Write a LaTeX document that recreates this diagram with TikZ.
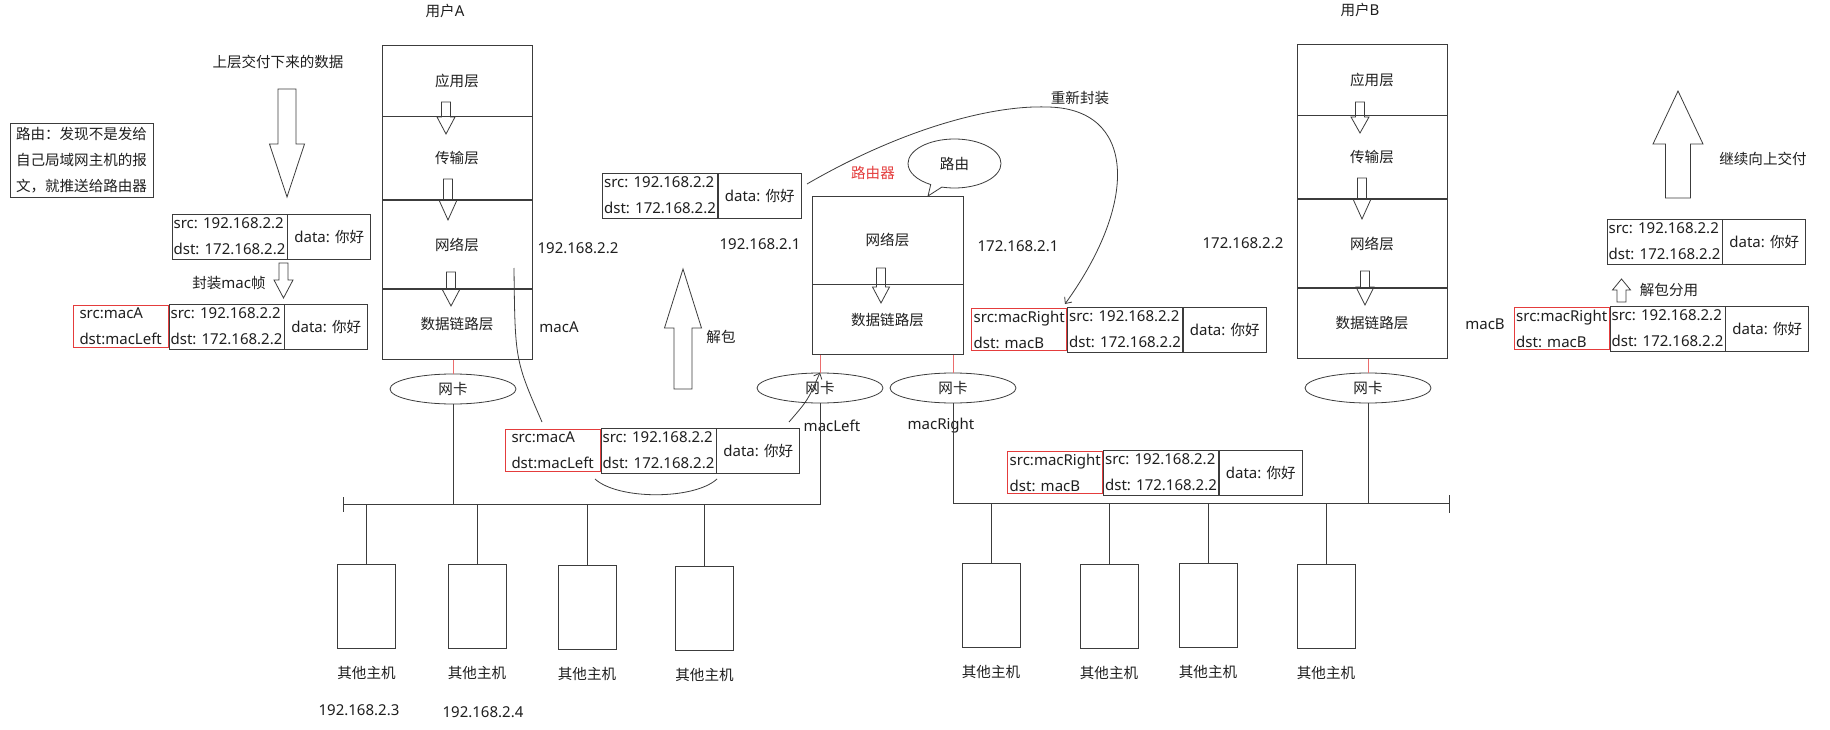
\documentclass[tikz,border=0pt]{standalone}
\usepackage{fontspec}
\setmainfont{Noto Sans}
\newfontfamily\cjk{Noto Sans CJK SC}[Scale=0.97]
\usepackage{tikz}
\usetikzlibrary{shapes,               % ellipse
           shapes.callouts,           % bulle
           arrows.meta,
           positioning}
\definecolor{ln}{RGB}{60,60,60}
\definecolor{macred}{RGB}{228,60,60}
\newcommand{\hollowarrow}[6]{% x, queue, pointe, tige, tete, debut de tete
  \draw (#1-#4/2,#2)--(#1-#4/2,#6)--(#1-#5/2,#6)--(#1,#3)--(#1+#5/2,#6)--(#1+#4/2,#6)--(#1+#4/2,#2)--cycle;}

\begin{document}
\begin{tikzpicture}[x=1pt,y=-1pt,line width=0.8pt,color=ln,text=black!88,
    font=\fontsize{15}{26}\selectfont,
    zh/.style={font=\fontsize{15}{26}\selectfont\cjk},
    layer/.style={zh,draw,minimum width=150pt,inner sep=0pt},
    nic/.style={zh,draw,ellipse,minimum width=126pt,minimum height=30pt,inner sep=0pt},
    host/.style={draw,minimum width=58pt,minimum height=84pt},
    ipbox/.style={draw,align=left,minimum width=115pt,inner xsep=0pt,inner ysep=1pt,minimum height=45pt},
    databox/.style={draw,minimum width=83pt,minimum height=45pt,inner sep=0pt},
    macbox/.style={draw=macred,align=left,minimum width=95pt,inner xsep=0pt,inner ysep=0pt,minimum height=42pt},
    redline/.style={draw=macred!75},
    flow/.style={-{Straight Barb[length=5pt,width=9pt]}}]
    \fill[white] (0,0) rectangle (1830,730);
    \useasboundingbox (0,0) rectangle (1830,730);
    % utilisateur A
    \node(uA)at(445,11){{\cjk 用户}A};
    \node[layer,minimum height=71pt](A1)at(457,80.5){应用层};
    \node[layer,minimum height=83pt,below=0pt of A1](A2){传输层};
    \node[layer,minimum height=88pt,below=0pt of A2](A3){网络层};
    \node[layer,minimum height=70pt,below=0pt of A3](A4){数据链路层};
    \hollowarrow{446}{102}{134}{9}{18}{117}
    \hollowarrow{448}{179}{220}{9}{18}{200}
    \hollowarrow{451}{272}{306}{9}{18}{289}
    \node(ipA)at(578,248){192.168.2.2};
    \node(macA)at(559,327){macA};
    \node[nic](nicA)at(453,389){网卡};
    \draw[redline](nicA.north|-A4.south)--(nicA.north);
    % encapsulation
    \node[zh](down)at(278,62){上层交付下来的数据};
    \hollowarrow{287}{89}{197}{18}{35}{144}
    \node[zh,draw,align=left,inner xsep=6pt,inner ysep=4pt](note)at(81.5,160){路由：发现不是发给\\自己局域网主机的报\\文，就推送给路由器};
    \node[ipbox](p1)at(229.5,236.5){src: 192.168.2.2\\dst: 172.168.2.2};
    \node[databox,right=0pt of p1](d1){data: {\cjk 你好}};
    \hollowarrow{283.5}{263}{298}{9}{19}{280}
    \node(enc)at(229,283){{\cjk 封装}mac{\cjk 帧}};
    \node[ipbox](p2)at(226.5,326.5){src: 192.168.2.2\\dst: 172.168.2.2};
    \node[databox,right=0pt of p2](d2){data: {\cjk 你好}};
    \node[macbox,left=0pt of p2](m2){src:macA\\dst:macLeft};
    % routeur
    \node[ipbox](p3)at(660,195.5){src: 192.168.2.2\\dst: 172.168.2.2};
    \node[databox,right=0pt of p3](d3){data: {\cjk 你好}};
    \node(ipL)at(760,244){192.168.2.1};
    \hollowarrow{683}{389}{269}{18}{37}{328}
    \node[zh](unp)at(721,337){解包};
    \node[layer,minimum width=151pt,minimum height=88pt](R1)at(887.5,240){网络层};
    \node[layer,minimum width=151pt,minimum height=70pt,below=0pt of R1](R2){数据链路层};
    \hollowarrow{881}{268}{303}{9}{17}{287}
    \node[zh,text=macred](rt)at(873,173){路由器};
    \coordinate(bubpt)at(928,196);
    \node[zh,draw,ellipse callout,minimum width=93pt,minimum height=49pt,inner sep=0pt,
          callout absolute pointer={(bubpt)}](bub)at(954.5,163.5){路由};
    \node[nic](nicL)at(820,388){网卡};
    \node[nic](nicR)at(953,388){网卡};
    \draw[redline](nicL.north|-R2.south)--(nicL.north);
    \draw[redline](nicR.north|-R2.south)--(nicR.north);
    \node(macL)at(832,426){macLeft};
    \node(macR)at(941,426){macRight};
    \node(ipR)at(1018,246){172.168.2.1};
    \node[zh](reenc)at(1080,98){重新封装};
    \node[ipbox](p5)at(1125,329.5){src: 192.168.2.2\\dst: 172.168.2.2};
    \node[databox,right=0pt of p5](d5){data: {\cjk 你好}};
    \node[macbox,left=0pt of p5](m5){src:macRight\\dst: macB};
    \coordinate(k6)at(807,184);
    \coordinate(k7)at(1065,304);
    \draw[flow](k6)..controls(900,130)and(990,105)..(1047,107)..controls(1135,108)and(1140,200)..(k7);
    % reseau de gauche
    \node[ipbox](p4)at(658.5,450.5){src: 192.168.2.2\\dst: 172.168.2.2};
    \node[databox,right=0pt of p4](d4){data: {\cjk 你好}};
    \node[macbox,left=0pt of p4](m4){src:macA\\dst:macLeft};
    \coordinate(k1)at(514,268);
    \coordinate(k2)at(542,422);
    \draw(k1)..controls(515,360)..(k2);
    \coordinate(k3)at(595,479);
    \coordinate(k4)at(717,479);
    \draw(k3)..controls(618,500)and(694,500)..(k4);
    \coordinate(k5)at(789,422);
    \draw[flow](k5)..controls(808,400)..(nicL.north);
    \coordinate(busL)at(343,504);
    \draw(busL)++(0,-7)--++(0,15);
    \draw(nicL.south)|-(busL);
    \draw(nicA.south)--(nicA.south|-busL);
    \node[host](h1)at(366.5,606){};
    \node[host](h2)at(477,606){};
    \node[host](h3)at(587,607){};
    \node[host](h4)at(704.5,608){};
    \draw(h1.north)--(h1.north|-busL);
    \draw(h2.north)--(h2.north|-busL);
    \draw(h3.north)--(h3.north|-busL);
    \draw(h4.north)--(h4.north|-busL);
    \node[zh,below=14pt of h1](t1){其他主机};
    \node[zh,below=14pt of h2](t2){其他主机};
    \node[zh,below=14pt of h3](t3){其他主机};
    \node[zh,below=14pt of h4](t4){其他主机};
    \node(ip3)at(359,710){192.168.2.3};
    \node(ip4)at(483,712){192.168.2.4};
    % reseau de droite
    \node[ipbox](p6)at(1161,472.5){src: 192.168.2.2\\dst: 172.168.2.2};
    \node[databox,right=0pt of p6](d6){data: {\cjk 你好}};
    \node[macbox,left=0pt of p6](m6){src:macRight\\dst: macB};
    \coordinate(busR)at(1449,503);
    \draw(busR)++(0,-8)--++(0,18);
    \draw(nicR.south)|-(busR);
    \node[host](h5)at(991,605.5){};
    \node[host](h6)at(1109,606){};
    \node[host](h7)at(1208,605.5){};
    \node[host](h8)at(1326,606){};
    \draw(h5.north)--(h5.north|-busR);
    \draw(h6.north)--(h6.north|-busR);
    \draw(h7.north)--(h7.north|-busR);
    \draw(h8.north)--(h8.north|-busR);
    \node[zh,below=14pt of h5](t5){其他主机};
    \node[zh,below=14pt of h6](t6){其他主机};
    \node[zh,below=14pt of h7](t7){其他主机};
    \node[zh,below=14pt of h8](t8){其他主机};
    % utilisateur B
    \node(uB)at(1360,10){{\cjk 用户}B};
    \node[layer,minimum height=71pt](B1)at(1372,79.5){应用层};
    \node[layer,minimum height=83pt,below=0pt of B1](B2){传输层};
    \node[layer,minimum height=88pt,below=0pt of B2](B3){网络层};
    \node[layer,minimum height=70pt,below=0pt of B3](B4){数据链路层};
    \hollowarrow{1360}{102}{133}{9}{18}{117}
    \hollowarrow{1362}{178}{219}{9}{18}{199}
    \hollowarrow{1365}{271}{305}{9}{18}{287}
    \node(ipB)at(1243,243){172.168.2.2};
    \node[nic](nicB)at(1368,388){网卡};
    \draw[redline](nicB.north|-B4.south)--(nicB.north);
    \draw(nicB.south)--(nicB.south|-busR);
    \node(macB)at(1485,324){macB};
    % decapsulation
    \node[ipbox](p8)at(1667.5,328.5){src: 192.168.2.2\\dst: 172.168.2.2};
    \node[databox,right=0pt of p8](d8){data: {\cjk 你好}};
    \node[macbox,left=0pt of p8](m8){src:macRight\\dst: macB};
    \hollowarrow{1621.5}{302}{279}{9}{18}{290}
    \node[zh](dem)at(1669,290){解包分用};
    \node[ipbox](p7)at(1664.5,241.5){src: 192.168.2.2\\dst: 172.168.2.2};
    \node[databox,right=0pt of p7](d7){data: {\cjk 你好}};
    \hollowarrow{1678}{198}{91}{25}{50}{144}
    \node[zh](up)at(1763,159){继续向上交付};
\end{tikzpicture}
\end{document}
